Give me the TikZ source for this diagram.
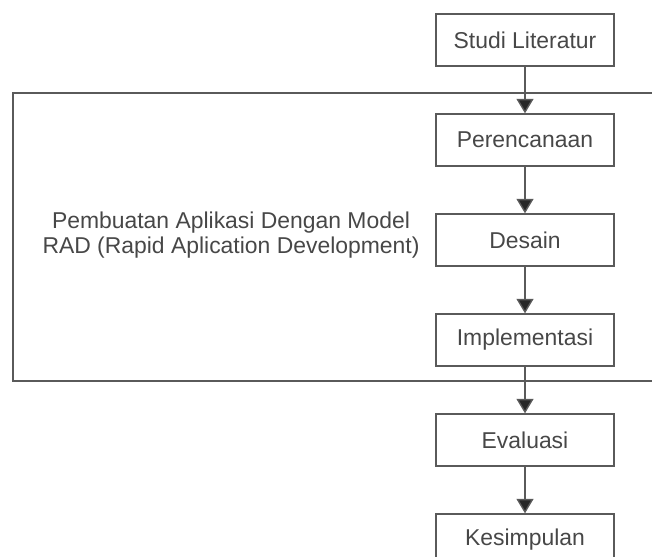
\documentclass[tikz,border=0pt]{standalone}
\usepackage{fontspec}
\setmainfont{Liberation Sans}
\usetikzlibrary{arrows.meta}
\definecolor{linegray}{HTML}{5A5A5A}
\definecolor{textgray}{HTML}{474747}
\tikzset{
    stage/.style={draw=linegray, line width=0.9pt, minimum width=4.45cm, minimum height=1.3cm,
        text=textgray, font=\fontsize{16.3}{18}\selectfont},
    flow/.style={draw=linegray, line width=1pt, -{Triangle[width=0.42cm,length=0.36cm,fill=black!85]}}
}
\begin{document}
\begin{tikzpicture}
        \useasboundingbox (0,0) rectangle (16.3,13.925);
        % Frame around the RAD stages (open on the right)
        \draw [linegray, line width=0.9pt] (16.3,11.6) -- (0.325,11.6) -- (0.325,4.4) -- (16.3,4.4);
        \node[text=textgray, align=center, font=\fontsize{16.3}{17.5}\selectfont] (rad) at (5.775,8.05)
            {Pembuatan Aplikasi Dengan Model\\RAD (Rapid Aplication Development)};
        % Stages
        \node[stage] (studi) at (13.125,12.925) {Studi Literatur};
        \node[stage] (rencana) at (13.125,10.425) {Perencanaan};
        \node[stage] (desain) at (13.125,7.925) {Desain};
        \node[stage] (impl) at (13.125,5.425) {Implementasi};
        \node[stage] (eval) at (13.125,2.925) {Evaluasi};
        \node[stage] (simpul) at (13.125,0.425) {Kesimpulan};
        % Arrows
        \draw[flow] (studi) -- (rencana);
        \draw[flow] (rencana) -- (desain);
        \draw[flow] (desain) -- (impl);
        \draw[flow] (impl) -- (eval);
        \draw[flow] (eval) -- (simpul);
\end{tikzpicture}
\end{document}
